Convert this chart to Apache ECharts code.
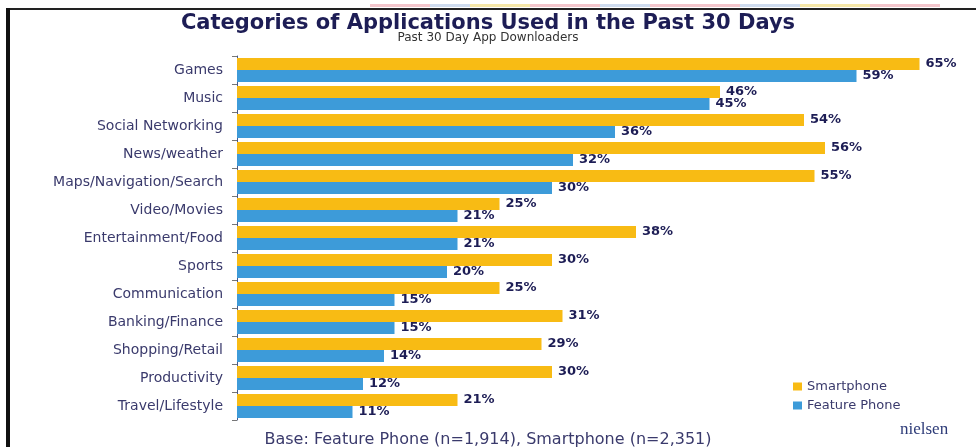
<!DOCTYPE html>
<html>
<head>
<meta charset="utf-8">
<script src="https://cdn.jsdelivr.net/npm/echarts@6/dist/echarts.min.js"></script>
<style>html,body{margin:0;padding:0;background:#fff;}#c{width:976px;height:447px;}</style>
</head>
<body>
<div id="c"></div>
<script>
const categories = ['Games','Music','Social Networking','News/weather','Maps/Navigation/Search','Video/Movies','Entertainment/Food','Sports','Communication','Banking/Finance','Shopping/Retail','Productivity','Travel/Lifestyle'];
const smartphone = [65,46,54,56,55,25,38,30,25,31,29,30,21];
const featurePhone = [59,45,36,32,30,21,21,20,15,15,14,12,11];
const seriesNames = ['Smartphone','Feature Phone'];
const titleText = 'Categories of Applications Used in the Past 30 Days';
const subtitleText = 'Past 30 Day App Downloaders';
const footerText = 'Base: Feature Phone (n=1,914), Smartphone (n=2,351)';

const FONT = '"DejaVu Sans", "Liberation Sans", Arial, sans-serif';
const YELLOW = '#f8bb14';
const BLUE = '#3d9bd9';
const NAVY = '#1d1d55';
const SLATE = '#3a3a6c';

const chart = echarts.init(document.getElementById('c'), null, {renderer:'canvas'});
const labelStyle = {show:true, position:'right', distance:6, formatter:'{c}%', color:NAVY, fontWeight:'bold', fontSize:13, fontFamily:FONT};
chart.setOption({
  animation:false,
  backgroundColor:'#fff',
  title:{
    text:titleText, subtext:subtitleText, left:'center', top:8, itemGap:-2,
    textStyle:{fontFamily:FONT, fontSize:21, fontWeight:'bold', color:NAVY},
    subtextStyle:{fontFamily:FONT, fontSize:12, color:'#333'}
  },
  legend:{
    data:seriesNames, orient:'vertical', left:788, top:375, itemWidth:9, itemHeight:8, itemGap:6,
    icon:'rect',
    textStyle:{fontFamily:FONT, fontSize:13, color:SLATE}
  },
  grid:{left:237, right:4, top:56, bottom:27},
  xAxis:{type:'value', min:0, max:70, show:false, splitLine:{show:false}},
  yAxis:{
    type:'category', data:categories, inverse:true,
    axisLine:{show:true, lineStyle:{color:'#4a5a8a', width:1}},
    axisTick:{show:true, length:5, lineStyle:{color:'#777'}},
    axisLabel:{fontFamily:FONT, fontSize:14, color:SLATE, margin:14}
  },
  series:[
    {name:seriesNames[0], type:'bar', data:smartphone, itemStyle:{color:YELLOW}, barGap:'0%', barCategoryGap:'14%', label:labelStyle},
    {name:seriesNames[1], type:'bar', data:featurePhone, itemStyle:{color:BLUE}, barGap:'0%', barCategoryGap:'14%', label:labelStyle}
  ],
  graphic:[
    {type:'rect', shape:{x:370,y:4,width:60,height:3}, style:{fill:'#f3c6cc'}, silent:true},
    {type:'rect', shape:{x:430,y:4,width:40,height:3}, style:{fill:'#cfdcef'}, silent:true},
    {type:'rect', shape:{x:470,y:4,width:60,height:3}, style:{fill:'#f6e7a8'}, silent:true},
    {type:'rect', shape:{x:530,y:4,width:70,height:3}, style:{fill:'#f3c6cc'}, silent:true},
    {type:'rect', shape:{x:600,y:4,width:50,height:3}, style:{fill:'#cfdcef'}, silent:true},
    {type:'rect', shape:{x:650,y:4,width:90,height:3}, style:{fill:'#f3c6cc'}, silent:true},
    {type:'rect', shape:{x:740,y:4,width:60,height:3}, style:{fill:'#cfdcef'}, silent:true},
    {type:'rect', shape:{x:800,y:4,width:70,height:3}, style:{fill:'#f6e7a8'}, silent:true},
    {type:'rect', shape:{x:870,y:4,width:70,height:3}, style:{fill:'#f3c6cc'}, silent:true},
    {type:'rect', shape:{x:8,y:8,width:968,height:2}, style:{fill:'#222'}, silent:true},
    {type:'rect', shape:{x:6,y:8,width:4,height:439}, style:{fill:'#111'}, silent:true},
    {type:'text', left:'center', top:432, style:{text:footerText, fontFamily:FONT, fontSize:16, fill:SLATE}, silent:true},
    {type:'text', left:900, top:421, style:{text:'nielsen', fontFamily:'"Liberation Serif", "DejaVu Serif", serif', fontSize:17, fill:'#2d3b78'}, silent:true}
  ]
});
</script>
</body>
</html>
